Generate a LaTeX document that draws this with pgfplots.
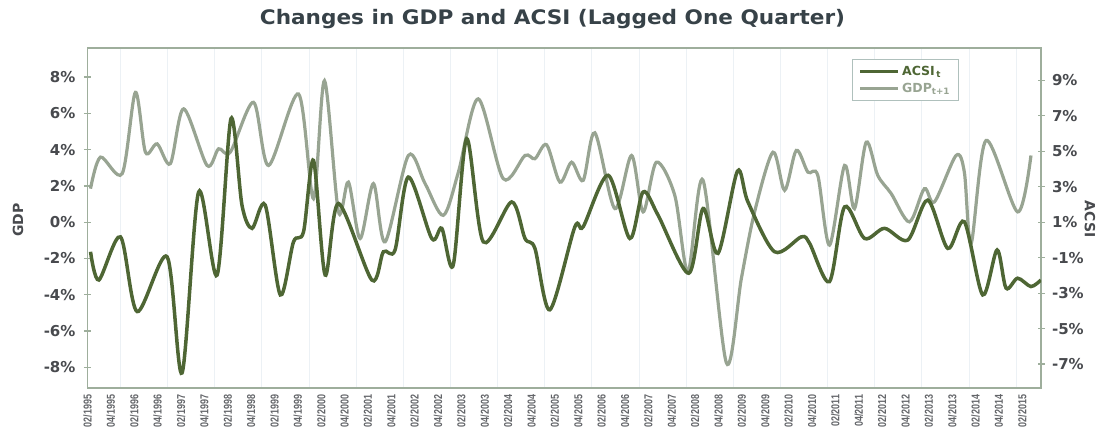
\documentclass[border=0pt]{standalone}
\usepackage{pgfplots}
\usepackage{pgfplotstable}
\pgfplotsset{compat=1.18}
\usepackage{fontspec}
\setmainfont{DejaVu Sans}
\newfontfamily\cond[FakeStretch=0.78]{Liberation Sans}
\newfontfamily\wide[FakeStretch=1.08]{DejaVu Sans}
\definecolor{acsi}{RGB}{78,102,52}
\definecolor{gdp}{RGB}{152,164,146}
\definecolor{framec}{RGB}{158,174,156}
\definecolor{txt}{RGB}{72,74,78}
\definecolor{titlec}{RGB}{55,66,72}
\definecolor{gridc}{RGB}{236,241,245}
\definecolor{legc}{RGB}{175,192,188}

\pgfplotstableread{
q val
0.26 1.85
1.11 3.59
2.97 2.68
4.10 7.16
4.96 3.86
5.96 4.32
7.09 3.23
8.23 6.25
10.23 3.13
11.22 4.05
12.22 3.86
14.21 6.61
15.50 3.13
18.06 7.07
19.34 1.30
20.28 7.80
21.48 0.57
22.33 2.21
23.33 -0.90
24.47 2.13
25.47 -1.08
27.46 3.68
28.89 2.13
30.45 0.38
31.74 2.76
33.44 6.80
35.58 2.40
37.44 3.68
38.29 3.50
39.29 4.27
40.43 2.21
41.43 3.31
42.42 2.31
43.42 4.93
45.13 0.75
46.56 3.68
47.55 0.57
48.69 3.31
50.26 1.48
51.39 -2.73
52.68 2.31
54.68 -7.76
55.96 -3.09
57.09 0.57
58.66 3.86
59.66 1.76
60.66 3.96
61.65 2.76
62.50 2.58
63.50 -1.26
64.79 3.13
65.64 0.75
66.64 4.41
67.63 2.58
68.78 1.58
70.34 0.02
71.62 1.85
72.48 1.12
74.33 3.68
75.04 2.76
75.62 -1.17
76.90 4.51
79.60 0.57
80.74 3.68
}\gdptable

\pgfplotstableread{
q val
0.26 -0.67
0.97 -2.26
2.82 0.17
4.25 -4.04
6.81 -0.95
8.09 -7.50
9.51 2.70
11.09 -1.98
12.28 6.83
13.22 1.96
14.08 0.65
15.21 1.96
16.50 -3.10
17.63 -0.11
18.49 0.46
19.34 4.48
20.34 -1.98
21.48 2.05
24.33 -2.26
25.32 -0.67
26.32 -0.57
27.46 3.54
29.46 0.08
30.32 0.65
31.30 -1.42
32.45 5.70
33.87 -0.11
36.30 2.14
37.44 0.08
38.29 -0.48
39.57 -3.94
41.70 0.72
42.42 0.74
44.56 3.64
46.41 0.08
47.55 2.70
48.83 1.39
51.45 -1.88
52.68 1.77
53.96 -0.76
55.62 3.87
56.52 2.14
58.80 -0.67
61.09 0.17
61.80 -0.20
63.50 -2.35
64.79 1.86
66.50 0.08
68.21 0.65
70.20 -0.01
71.91 2.24
73.62 -0.48
75.04 1.02
76.61 -3.10
77.84 -0.57
78.61 -2.72
79.60 -2.16
80.74 -2.63
81.59 -2.26
}\acsitable

\pgfplotsset{
  common/.style={
    scale only axis, width=953.5pt, height=340pt,
    xmin=0, xmax=81.6,
    axis line style={framec, line width=1.8pt},
    tick align=center, major tick length=7pt,
    y tick style={framec, line width=1.2pt},
    yticklabel style={font=\bfseries\fontsize{15}{15}\selectfont, text=txt},
  }
}

\begin{document}
\begin{tikzpicture}
\path[use as bounding box] (-87.5pt,-48.3pt) rectangle (1018.5pt,387.7pt);

\begin{axis}[common,
  ymin=-9.12, ymax=9.62,
  ytick={-8,-6,...,8},
  yticklabels={-8\%,-6\%,-4\%,-2\%,0\%,2\%,4\%,6\%,8\%},
  ytick pos=left,
  yticklabel style={xshift=-5pt},
  xtick={0,2,...,80},
  xticklabels={02/1995,04/1995,02/1996,04/1996,02/1997,04/1997,02/1998,04/1998,02/1999,04/1999,02/2000,04/2000,02/2001,04/2001,02/2002,04/2002,02/2003,04/2003,02/2004,04/2004,02/2005,04/2005,02/2006,04/2006,02/2007,04/2007,02/2008,04/2008,02/2009,04/2009,02/2010,04/2010,02/2011,04/2011,02/2012,04/2012,02/2013,04/2013,02/2014,04/2014,02/2015},
  xticklabel style={rotate=90, anchor=east, font=\cond\bfseries\fontsize{11.5}{11.5}\selectfont, text=txt!85},
  x tick style={draw=none},
  minor xtick={2.82,6.85,10.89,14.92,18.96,22.99,27.03,31.06,35.10,39.13,43.16,47.20,51.23,55.27,59.30,63.33,67.37,71.40,75.44,79.47},
  xminorgrids,
  minor x grid style={gridc, line width=1pt},
]
\addplot[gdp, line width=3.2pt, smooth] table[x=q, y=val] {\gdptable};
\end{axis}

\begin{axis}[common,
  ymin=-8.33, ymax=10.83,
  axis x line=none,
  axis y line*=right,
  ytick={-7,-5,...,9},
  yticklabels={-7\%,-5\%,-3\%,-1\%,1\%,3\%,5\%,7\%,9\%},
  yticklabel style={xshift=4pt},
  legend style={at={(0.802,0.967)}, anchor=north west, draw=legc, line width=0.8pt,
    font=\bfseries\fontsize{12.5}{12.5}\selectfont, inner xsep=6pt, inner ysep=5pt, row sep=2pt},
  legend cell align=left,
  legend image code/.code={\draw[#1] (0pt,0pt) -- (38pt,0pt);},
]
\addplot[acsi, line width=3.5pt, smooth] table[x=q, y=val] {\acsitable};
\addlegendentry{\textcolor{acsi}{ACSI\textsubscript{\,t}}}
\addlegendimage{gdp, line width=3.2pt}
\addlegendentry{\textcolor{gdp}{GDP\textsubscript{t+1}}}
\end{axis}

\node[font=\wide\bfseries\fontsize{20}{20}\selectfont, text=titlec] at (465pt,369pt) {Changes in GDP and ACSI (Lagged One Quarter)};
\node[rotate=90, font=\bfseries\fontsize{14}{14}\selectfont, text=txt] at (-69.5pt,167.7pt) {GDP};
\node[rotate=-90, font=\bfseries\fontsize{14}{14}\selectfont, text=txt] at (1002.5pt,168.7pt) {ACSI};
\end{tikzpicture}
\end{document}
